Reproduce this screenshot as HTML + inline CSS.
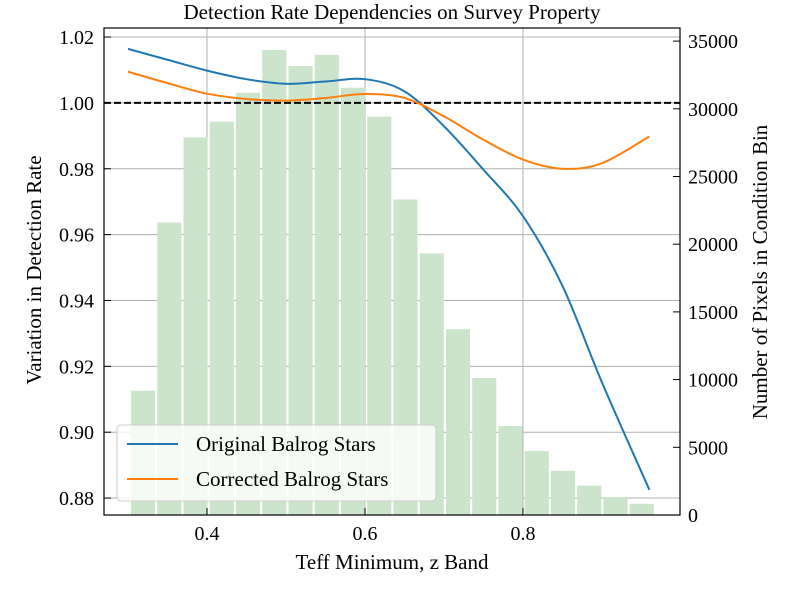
<!DOCTYPE html>
<html><head><meta charset="utf-8"><style>
body{margin:0;background:#fff}
svg text{font-family:"Liberation Serif","DejaVu Serif",serif;fill:#000}
</style></head><body>
<svg id="chart" width="800" height="600" xmlns="http://www.w3.org/2000/svg">
<g id="grid"></g>
<g id="bars"></g>
<g id="lines"></g>
<g id="axes"></g>
<text x="392" y="19" text-anchor="middle" font-size="21">Detection Rate Dependencies on Survey Property</text>
<text x="392" y="569" text-anchor="middle" font-size="21">Teff Minimum, z Band</text>
<text transform="translate(41,270) rotate(-90)" text-anchor="middle" font-size="21">Variation in Detection Rate</text>
<text transform="translate(767,272) rotate(-90)" text-anchor="middle" font-size="21">Number of Pixels in Condition Bin</text>
<g>
<rect x="117" y="425" width="319" height="76" rx="4" fill="#fff" fill-opacity="0.8" stroke="#ccc"/>
<line x1="127" y1="444" x2="178" y2="444" stroke="#1f77b4" stroke-width="2"/>
<text x="196" y="451" font-size="21">Original Balrog Stars</text>
<line x1="127" y1="479" x2="178" y2="479" stroke="#ff7f0e" stroke-width="2"/>
<text x="196" y="486" font-size="21">Corrected Balrog Stars</text>
</g>
</svg>
<script>
const binStart = 0.3038, binWidth = 0.03322;
const counts = [9180,21600,27890,29050,31180,34350,33170,33980,31550,29420,23300,19320,13720,10120,6570,4730,3260,2160,1330,830];
const xs = [0.3,0.35,0.4,0.45,0.5,0.55,0.6,0.65,0.7,0.75,0.8,0.85,0.9,0.96];
const original = [1.0164,1.0131,1.0098,1.0072,1.0058,1.0065,1.0072,1.0035,0.9929,0.9797,0.9656,0.9444,0.9151,0.8825];
const corrected = [1.0095,1.0060,1.0028,1.0012,1.0007,1.0015,1.0027,1.0015,0.9959,0.9888,0.9828,0.9800,0.9817,0.9898];
const xTicks = [0.4,0.6,0.8];
const yTicks = [0.88,0.90,0.92,0.94,0.96,0.98,1.00,1.02];
const y2Ticks = [0,5000,10000,15000,20000,25000,30000,35000];

const L=104,R=680,T=28,B=515;
const X = d => 128 + (d-0.3)*790;
const Y = v => 102.9 - (v-1.0)*3293;
const Y2 = c => 515 - c*67.7/5000;
const NS="http://www.w3.org/2000/svg";
function mk(tag, attrs, parent){const e=document.createElementNS(NS,tag);for(const k in attrs)e.setAttribute(k,attrs[k]);parent.appendChild(e);return e;}
const grid=document.getElementById('grid'),bars=document.getElementById('bars'),lines=document.getElementById('lines'),axes=document.getElementById('axes');

xTicks.forEach(t=>{const g=mk('line',{x1:X(t),x2:X(t),y1:T,y2:B,stroke:'#b0b0b0','stroke-width':1},grid);

});
yTicks.forEach(t=>{const g=mk('line',{x1:L,x2:R,y1:Y(t),y2:Y(t),stroke:'#b0b0b0','stroke-width':1},grid);

});

counts.forEach((c,i)=>{const x0=X(binStart+i*binWidth), x1=X(binStart+(i+1)*binWidth);
const w=(x1-x0)*0.92;
const r=mk('rect',{x:x0,y:Y2(c),width:w,height:B-Y2(c),fill:'#cde4cc'},bars);

});

function pathFor(vals){const p=xs.map((d,i)=>[X(d),Y(vals[i])]);let s='M'+p[0][0]+','+p[0][1];
for(let i=0;i<p.length-1;i++){const p0=p[Math.max(0,i-1)],p1=p[i],p2=p[i+1],p3=p[Math.min(p.length-1,i+2)];
const c1=[p1[0]+(p2[0]-p0[0])/6,p1[1]+(p2[1]-p0[1])/6],c2=[p2[0]-(p3[0]-p1[0])/6,p2[1]-(p3[1]-p1[1])/6];
s+=' C'+c1+' '+c2+' '+p2;}return s;}
const dash=mk('line',{x1:L,x2:R,y1:Y(1),y2:Y(1),stroke:'#000','stroke-width':2,'stroke-dasharray':'7,3'},lines);


const lo=mk('path',{d:pathFor(original),fill:'none',stroke:'#1f77b4','stroke-width':2},lines);


const lc=mk('path',{d:pathFor(corrected),fill:'none',stroke:'#ff7f0e','stroke-width':2},lines);



const fr=mk('rect',{x:L,y:T,width:R-L,height:B-T,fill:'none',stroke:'#000','stroke-width':1.2},axes);


xTicks.forEach(t=>{mk('line',{x1:X(t),x2:X(t),y1:B,y2:B-7,stroke:'#000'},axes);
const tx=mk('text',{x:X(t),y:B+25,'text-anchor':'middle','font-size':20},axes);tx.textContent=t.toFixed(1);

});
yTicks.forEach(t=>{mk('line',{x1:L,x2:L+7,y1:Y(t),y2:Y(t),stroke:'#000'},axes);
const tx=mk('text',{x:L-10,y:Y(t)+7,'text-anchor':'end','font-size':20},axes);tx.textContent=t.toFixed(2);

});
y2Ticks.forEach(t=>{mk('line',{x1:R,x2:R-7,y1:Y2(t),y2:Y2(t),stroke:'#000'},axes);
const tx=mk('text',{x:R+8,y:Y2(t)+7,'text-anchor':'start','font-size':20},axes);tx.textContent=t;

});
</script>
</body></html>
